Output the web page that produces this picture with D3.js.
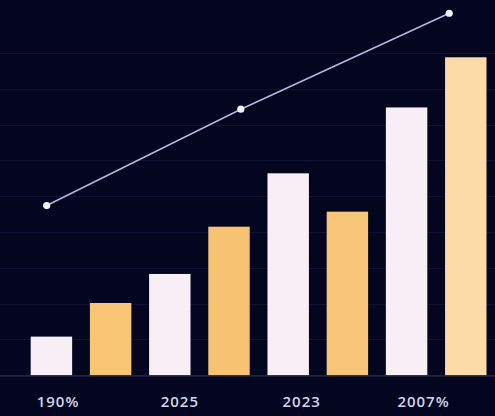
<!DOCTYPE html>
<html lang="en">
<head>
<meta charset="utf-8">
<title>Bars and line</title>
<script src="https://cdn.jsdelivr.net/npm/d3@7"></script>
<style>
    html, body {margin: 0; padding: 0; background: #04051f;}
    svg {display: block; background: #04051f;}
    .axis text {
        font-family: "Open Sans", sans-serif;
        font-size: 15px;
        font-weight: 600;
        letter-spacing: 1px;
        fill: #d3d5ec;
    }
</style>
</head>
<body>
<script>
// data
var barIndex  = [0, 1, 2, 3, 4, 5, 6, 7];
var barSeries = ["light", "gold", "light", "gold", "light", "gold", "light", "gold"];
var barValues = [10.8, 20.2, 28.3, 41.5, 56.4, 45.7, 74.8, 88.8];

var lineIndex  = [0.27, 3.55, 7.07];
var lineValues = [47.4, 74.3, 101.1];

var xLabels = ["190%", "2025", "2023", "2007%"];
var yTicks  = [10, 20, 30, 40, 50, 60, 70, 80, 90];

var w = 495;
var h = 416;
var baseY = 375.3;

var svg = d3.select("body")
    .append("svg")
    .attr("width", w)
    .attr("height", h);

// scales
var xBand = d3.scaleBand()
    .domain(barIndex)
    .range([30.7, 486.5])
    .paddingInner(0.3)
    .paddingOuter(0);

var xLin = d3.scaleLinear()
    .domain([0, 1])
    .range([30.7, 30.7 + xBand.step()]);

var yScale = d3.scaleLinear()
    .domain([0, 90])
    .range([baseY, 53]);

var xLabelScale = d3.scalePoint()
    .domain(xLabels)
    .range([57.5, 423]);

var colors = ["#f8c575", "#f7c372", "#f7c577", "#fcdba8"];

// faint grid
svg.append("g")
    .selectAll("line")
    .data(yTicks)
    .enter()
    .append("line")
    .attr("x1", 0)
    .attr("x2", w)
    .attr("y1", function(d) {return Math.round(yScale(d)) + 0.5;})
    .attr("y2", function(d) {return Math.round(yScale(d)) + 0.5;})
    .attr("stroke", "#0f1135")
    .attr("stroke-width", 1);

// bars
svg.append("g")
    .selectAll("rect")
    .data(barIndex)
    .enter()
    .append("rect")
    .attr("x", function(i) {return xBand(i);})
    .attr("y", function(i) {return yScale(barValues[i]);})
    .attr("width", xBand.bandwidth())
    .attr("height", function(i) {return yScale(0) - yScale(barValues[i]);})
    .attr("fill", function(i) {
        return barSeries[i] == "light" ? "#f8eff6" : colors[Math.floor(i / 2)];
    });

// base line
svg.append("line")
    .attr("x1", 0)
    .attr("x2", w)
    .attr("y1", baseY + 0.5)
    .attr("y2", baseY + 0.5)
    .attr("stroke", "#2b2e55")
    .attr("stroke-width", 1.2);

// trend line
var pts = lineIndex.map(function(d, i) {return [xLin(d), yScale(lineValues[i])];});

svg.append("path")
    .datum(pts)
    .attr("d", d3.line())
    .attr("fill", "none")
    .attr("stroke", "#b4b8dc")
    .attr("stroke-width", 1.6);

svg.append("g")
    .selectAll("circle")
    .data(pts)
    .enter()
    .append("circle")
    .attr("cx", function(d) {return d[0];})
    .attr("cy", function(d) {return d[1];})
    .attr("r", 3.6)
    .attr("fill", "#f2f2ff");

// x labels
var xAxis = d3.axisBottom(xLabelScale).tickSize(0).tickPadding(0);

svg.append("g")
    .attr("class", "axis")
    .attr("transform", "translate(0,396)")
    .call(xAxis)
    .call(function(g) {g.select(".domain").remove();});
</script>
</body>
</html>
